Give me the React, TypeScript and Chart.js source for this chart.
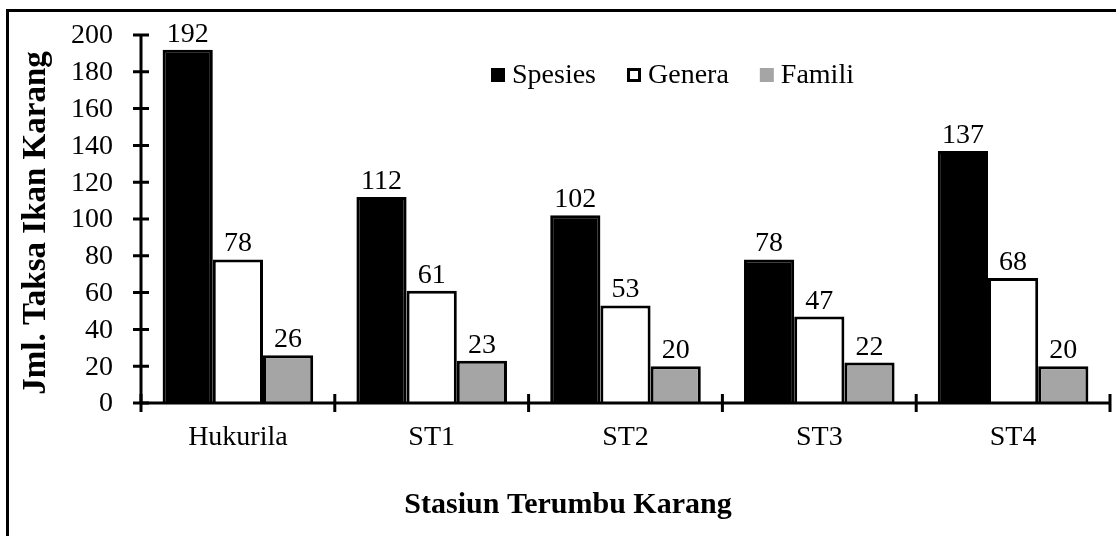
import React, { useEffect, useRef } from "react";
import { Chart, registerables } from "chart.js";

Chart.register(...registerables);

const categories = ["Hukurila", "ST1", "ST2", "ST3", "ST4"];
const spesies = [192, 112, 102, 78, 137];
const genera = [78, 61, 53, 47, 68];
const famili = [26, 23, 20, 22, 20];
const seriesNames = ["Spesies", "Genera", "Famili"];
const seriesColors = ["#000000", "#ffffff", "#a5a5a5"];
const yTitle = "Jml. Taksa Ikan Karang";
const xTitle = "Stasiun Terumbu Karang";

const FONT = "'Liberation Serif', 'Times New Roman', serif";
const FS = 28;

const decorPlugin = {
  id: "decor",
  afterDraw(chart: any) {
    const ctx = chart.ctx;
    const ca = chart.chartArea;
    const ys = chart.scales.y;
    ctx.save();
    ctx.strokeStyle = "#000";
    ctx.lineWidth = 3;
    ctx.beginPath();
    ctx.moveTo(7.5, 536);
    ctx.lineTo(7.5, 10.5);
    ctx.lineTo(1116, 10.5);
    ctx.stroke();

    ctx.lineWidth = 3;
    ctx.beginPath();
    ctx.moveTo(ca.left, ca.top);
    ctx.lineTo(ca.left, ca.bottom);
    ctx.moveTo(ca.left, ca.bottom);
    ctx.lineTo(ca.right, ca.bottom);
    ctx.stroke();

    // y ticks (crossing) + labels
    ctx.fillStyle = "#000";
    ctx.font = `${FS}px ${FONT}`;
    ctx.textAlign = "right";
    ctx.textBaseline = "middle";
    ctx.beginPath();
    ys.ticks.forEach((t: any) => {
      const y = ys.getPixelForValue(t.value);
      ctx.moveTo(ca.left - 8, y);
      ctx.lineTo(ca.left + 8, y);
      ctx.fillText(String(t.label), ca.left - 28, y + 1);
    });
    ctx.stroke();

    const n = categories.length;
    const cw = (ca.right - ca.left) / n;
    ctx.beginPath();
    for (let i = 0; i <= n; i++) {
      const x = ca.left + i * cw;
      ctx.moveTo(x, ca.bottom - 9);
      ctx.lineTo(x, ca.bottom + 9);
    }
    ctx.stroke();

    ctx.textAlign = "center";
    ctx.textBaseline = "alphabetic";
    chart.data.datasets.forEach((ds: any, di: number) => {
      const meta = chart.getDatasetMeta(di);
      meta.data.forEach((el: any, i: number) => {
        ctx.fillText(String(ds.data[i]), el.x, el.y - 8);
      });
    });

    let lx = 491;
    const boxTop = 68;
    const box = 14;
    ctx.textAlign = "left";
    seriesNames.forEach((name, i) => {
      ctx.fillStyle = seriesColors[i];
      ctx.fillRect(lx, boxTop, box, box);
      if (i === 1) {
        ctx.strokeStyle = "#000";
        ctx.lineWidth = 3;
        ctx.strokeRect(lx + 1.5, boxTop + 1.5, box - 3, box - 3);
      }
      ctx.fillStyle = "#000";
      const tx = lx + box + 7;
      ctx.fillText(name, tx, 83);
      lx = tx + ctx.measureText(name).width + 31;
    });

    ctx.font = `bold 30px ${FONT}`;
    ctx.textAlign = "center";
    ctx.textBaseline = "alphabetic";
    ctx.fillText(xTitle, 568, 513);
    ctx.font = `bold 33px ${FONT}`;
    ctx.translate(45, (ca.top + ca.bottom) / 2 + 4);
    ctx.rotate(-Math.PI / 2);
    ctx.fillText(yTitle, 0, 0);
    ctx.restore();
  },
};

export default function App() {
  const ref = useRef<HTMLCanvasElement>(null);
  useEffect(() => {
    if (!ref.current) return;
    const chart = new Chart(ref.current, {
      type: "bar",
      data: {
        labels: categories,
        datasets: [spesies, genera, famili].map((d, i) => ({
          label: seriesNames[i],
          data: d,
          backgroundColor: seriesColors[i],
          borderColor: "#000",
          borderWidth: 3,
          categoryPercentage: 0.777,
          barPercentage: 1,
        })),
      },
      options: {
        animation: false,
        responsive: false,
        maintainAspectRatio: false,
        layout: { padding: { top: 35, right: 6, left: 0, bottom: 0 } },
        plugins: { legend: { display: false }, tooltip: { enabled: false } },
        scales: {
          y: {
            min: 0,
            max: 200,
            ticks: {
              stepSize: 20,
              autoSkip: false,
              display: false,
            },
            grid: { display: false, drawTicks: false },
            border: { display: false },
            afterFit: (s: any) => {
              s.width = 141;
            },
          },
          x: {
            ticks: {
              color: "#000",
              padding: 18,
              font: { family: FONT, size: FS },
              maxRotation: 0,
            },
            grid: { display: false, drawTicks: false },
            border: { display: false },
            afterFit: (s: any) => {
              s.height = 133;
            },
          },
        },
      },
      plugins: [decorPlugin],
    });
    return () => chart.destroy();
  }, []);
  return (
    <div style={{ position: "fixed", left: 0, top: 0, width: 1116, height: 536, background: "#fff" }}>
      <canvas ref={ref} width={1116} height={536} style={{ width: 1116, height: 536, display: "block" }} />
    </div>
  );
}
